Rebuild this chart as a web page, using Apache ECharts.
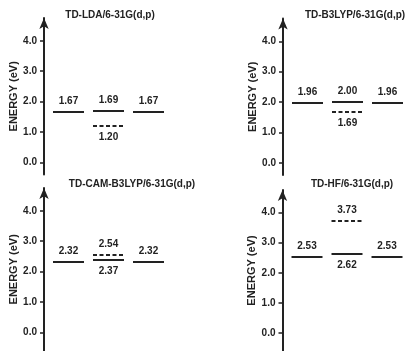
<!DOCTYPE html>
<html>
<head>
<meta charset="utf-8">
<script src="https://cdn.jsdelivr.net/npm/echarts@6/dist/echarts.min.js"></script>
<style>
  html, body { margin: 0; padding: 0; background: #fff; }
  #chart { width: 415px; height: 351px; }
</style>
</head>
<body>
<div id="chart"></div>
<script>
// 四个面板的数据
var panelTitles = ['TD-LDA/6-31G(d,p)', 'TD-B3LYP/6-31G(d,p)', 'TD-CAM-B3LYP/6-31G(d,p)', 'TD-HF/6-31G(d,p)'];
// left, middle, right solid levels
var ldaSolid = [1.67, 1.69, 1.67];
var b3lypSolid = [1.96, 2.00, 1.96];
var camSolid = [2.32, 2.37, 2.32];
var hfSolid = [2.53, 2.62, 2.53];
// dashed level, middle column only
var dashedLevels = [1.20, 1.69, 2.54, 3.73];
var yTicks = [0, 1, 2, 3, 4];

var solidLevels = [ldaSolid, b3lypSolid, camSolid, hfSolid];

var FONT = 'Liberation Sans, Arial, sans-serif';
var INK = '#222';

// 布局
var panels = [
    { left: 44, top: 18, height: 156.6, min: -0.4, titleX: 105, titleY: 5 },
    { left: 283, top: 18.5, height: 156.6, min: -0.4, titleX: 350, titleY: 5 },
    { left: 44, top: 188, height: 162.6, min: -0.6, titleX: 127, titleY: 174 },
    { left: 282.5, top: 190, height: 162.6, min: -0.6, titleX: 347, titleY: 174 }
];

function renderLevel(params, api) {
    var col = api.value(0);
    var v = api.value(1);
    var dashed = api.value(2);
    var above = api.value(3);
    var p0 = api.coord([col + 0.225, v]);
    var p1 = api.coord([col + 1, v]);
    var y = Math.round(p0[1]);
    return {
        type: 'group',
        children: [{
            type: 'line',
            shape: { x1: p0[0], y1: y, x2: p1[0], y2: y },
            style: { stroke: INK, lineWidth: 2, lineDash: dashed ? [4, 2.5] : null }
        }, {
            type: 'text',
            style: {
                text: v.toFixed(2),
                x: (p0[0] + p1[0]) / 2,
                y: y + (above ? -11 : 11),
                align: 'center',
                verticalAlign: 'middle',
                font: 'bold 10px ' + FONT,
                fill: INK
            }
        }]
    };
}

var option = { animation: false, title: [], grid: [], xAxis: [], yAxis: [], series: [] };

panels.forEach(function (p, i) {
    option.title.push({
        text: panelTitles[i],
        left: p.titleX,
        top: p.titleY,
        textAlign: 'center',
        textStyle: { fontFamily: FONT, fontSize: 10, fontWeight: 'bold', color: INK }
    });
    option.grid.push({ left: p.left, top: p.top, width: 120, height: p.height });
    option.xAxis.push({ type: 'value', gridIndex: i, min: 0, max: 3, show: false });
    option.yAxis.push({
        type: 'value',
        gridIndex: i,
        min: p.min,
        max: 4.75,
        name: 'ENERGY (eV)',
        nameLocation: 'middle',
        nameGap: 25,
        nameTextStyle: { fontFamily: FONT, fontSize: 11, fontWeight: 'bold', color: INK },
        axisLine: {
            show: true,
            symbol: ['none', 'arrow'],
            symbolSize: [7, 11],
            lineStyle: { color: INK, width: 2 }
        },
        axisTick: { show: true, customValues: yTicks, length: 4, lineStyle: { color: INK, width: 1.5 } },
        axisLabel: {
            customValues: yTicks,
            margin: 7,
            formatter: function (v) { return v.toFixed(1); },
            fontFamily: FONT, fontSize: 10, fontWeight: 'bold', color: INK
        },
        splitLine: { show: false }
    });

    var lv = solidLevels[i];
    var d = dashedLevels[i];
    var midSolidAbove = lv[1] >= d;
    var data = [
        [0, lv[0], 0, 1],
        [1, lv[1], 0, midSolidAbove ? 1 : 0],
        [2, lv[2], 0, 1],
        [1, d, 1, midSolidAbove ? 0 : 1]
    ];
    option.series.push({
        type: 'custom',
        xAxisIndex: i,
        yAxisIndex: i,
        renderItem: renderLevel,
        clip: false,
        data: data
    });
});

var chart = echarts.init(document.getElementById('chart'));
chart.setOption(option);
</script>
</body>
</html>
